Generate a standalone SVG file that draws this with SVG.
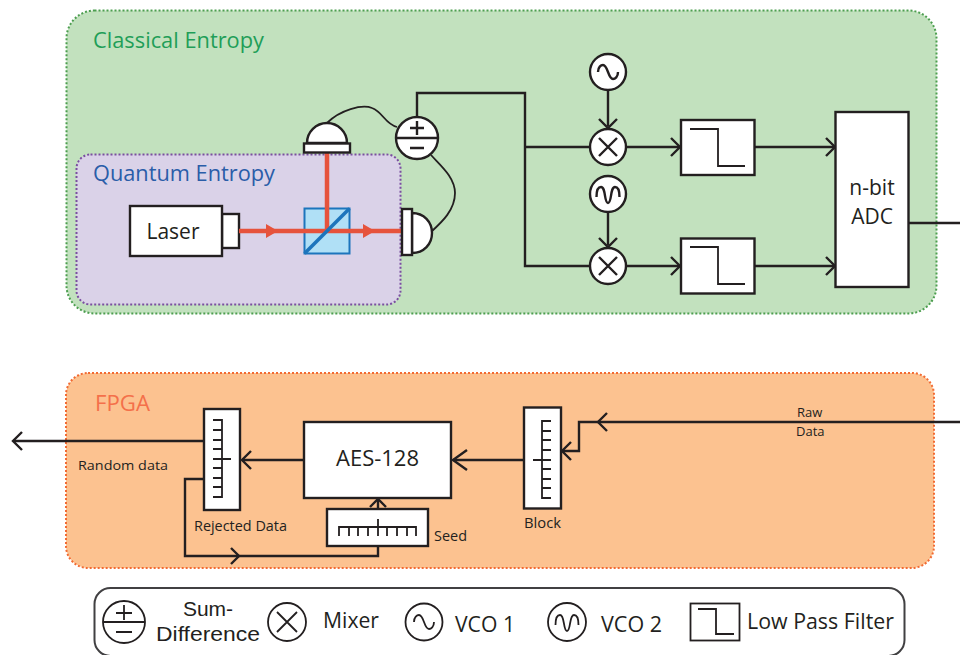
<svg xmlns="http://www.w3.org/2000/svg" width="960" height="655" viewBox="0 0 960 655">
<defs>
<style>
text{font-family:"Open Sans","Noto Sans","Liberation Sans",sans-serif;fill:#231f20}
.tight{font-family:"Liberation Sans",Arial,sans-serif}
.ln{fill:none;stroke:#231f20;stroke-width:2.4}
.th{fill:none;stroke:#231f20;stroke-width:1.8}
.box{fill:#fff;stroke:#231f20;stroke-width:2.4}
.ah{fill:none;stroke:#231f20;stroke-width:2.4}
.beam{fill:none;stroke:#e6533c;stroke-width:4.5}
</style>
</defs>
<rect x="0" y="0" width="960" height="655" fill="#fff"/>
<g id="classical-panel"><rect x="66.500" y="10.500" width="870" height="303" rx="28" fill="#c2e1be" stroke="#4c9e4f" stroke-width="2" stroke-dasharray="2 2"/><text x="93" y="48" font-size="22" style="fill:#1f9e58" textLength="171" lengthAdjust="spacingAndGlyphs">Classical Entropy</text></g>
<g id="quantum-panel"><rect x="76.500" y="154.500" width="324" height="150" rx="14" fill="#dad2e8" stroke="#7a4fa0" stroke-width="2" stroke-dasharray="2 2"/><text x="93" y="181" font-size="22" style="fill:#2a5da8" textLength="182" lengthAdjust="spacingAndGlyphs">Quantum Entropy</text></g>
<g id="fpga-panel"><rect x="66" y="373" width="868" height="195" rx="22" fill="#fcc290" stroke="#f26b33" stroke-width="2" stroke-dasharray="2 2"/><text x="95" y="411" font-size="21" style="fill:#f4704a" textLength="55" lengthAdjust="spacingAndGlyphs">FPGA</text></g>

<g id="connectors">
<path class="ln" d="M417 117V93H525V266H590M525 147H590"/>
<path class="th" d="M327 123C340 110 362 104 372 108C383 112 385 124 397 127"/>
<path class="th" d="M431 232C442 222 455 210 455 193C455 177 440 165 431 155"/>
<path class="ln" d="M608 90V126M608 212V245M626 147H680M626 266H680M755 147H834M755 266H834M909 223H960"/>
<path class="ah" d="M599 119L608 128L617 119M599 238L608 247L617 238M671 138L680 147L671 156M671 257L680 266L671 275M826 138L835 147L826 156M826 257L835 266L826 275"/>
<path class="ln" d="M204 441H13"/><path class="ah" d="M22 432L13 441L22 450"/>
<path class="ln" d="M304 460H242"/><path class="ah" d="M251 451L242 460L251 469"/>
<path class="ln" d="M524 460H453"/><path class="ah" d="M467 450L453 460L467 470"/>
<path class="ln" d="M960 422H579V451H563"/><path class="ah" d="M607 413L598 422L607 431M571 442L562 451L571 460"/>
<path class="ln" d="M204 479H185V556H378V546M378 509V499"/>
<path class="ah" d="M370 507L378 499L386 507M231 548L239 556L231 564"/>
</g>

<g id="laser"><rect class="box" x="222" y="214" width="17" height="34"/><rect class="box" x="130" y="206" width="92" height="50"/><text x="173" y="239" font-size="21" text-anchor="middle">Laser</text></g>
<g id="beamsplitter"><rect x="304.500" y="208.500" width="45" height="45" fill="#b0e0f6" stroke="#1c75bc" stroke-width="2"/></g>
<g id="beams"><path class="beam" d="M239 231H403M327 231V153"/><path d="M266 224L278 231L266 238Z M363 224L375 231L363 238Z" fill="#e6533c"/></g>
<path d="M304.500 253.500L349.500 208.500" stroke="#1c75bc" stroke-width="3.500" fill="none"/>
<g id="detector-top"><path class="box" stroke-width="1.800" d="M307 143C307 132 316 123 327 123C338 123 347 132 347 143Z"/><rect class="box" x="304" y="143.500" width="46" height="9"/></g>
<g id="detector-right"><path class="box" d="M412 213C424 213 432 222 432 233C432 244 424 253 412 253Z"/><rect class="box" x="402" y="209" width="10" height="46"/></g>
<g id="sum"><circle class="box" cx="417" cy="138" r="21"/><path class="ln" d="M396 138H438M410 128H424M417 121V135M410 148H424"/></g>

<g id="vco1"><circle class="box" cx="608" cy="72" r="18"/><path class="ln" d="M598 72C598 67 601 65 603 65C608 65 608 79 613 79C615 79 618 77 618 72"/></g>
<g id="vco2"><circle class="box" cx="608" cy="194" r="18"/><path class="ln" d="M596.500 197C596.500 190 598 187 601 187C606 187 604 203 608 203C612 203 610 187 615 187C618 187 619.500 190 619.500 197"/></g>
<g id="mixer1"><circle class="box" cx="608" cy="147" r="18"/><path class="ln" d="M599 138L617 156M617 138L599 156"/></g>
<g id="mixer2"><circle class="box" cx="608" cy="266" r="18"/><path class="ln" d="M599 257L617 275M617 257L599 275"/></g>
<g id="filter1"><rect class="box" x="681" y="120" width="73.500" height="55"/><path class="th" d="M690 129H718V166H745"/></g>
<g id="filter2"><rect class="box" x="681" y="238.500" width="73.500" height="55"/><path class="th" d="M690 247H718V284H745"/></g>
<g id="adc"><rect class="box" x="835.500" y="112" width="73" height="175"/><text x="872" y="195" font-size="21" text-anchor="middle">n-bit</text><text x="872" y="224" font-size="21" text-anchor="middle">ADC</text></g>

<g id="output-block"><rect class="box" x="204" y="409" width="36" height="101"/><path class="th" d="M213 420H222V497H213M213 430H222M213 440H222M213 449H222M213 459H231M213 468H222M213 478H222M213 487H222"/></g>
<g id="aes"><rect class="box" x="304" y="422" width="147" height="76"/><text x="377.500" y="466" font-size="21" text-anchor="middle" textLength="83" lengthAdjust="spacingAndGlyphs">AES-128</text></g>
<g id="block"><rect class="box" x="524" y="407.500" width="37" height="101"/><path class="th" d="M551 421H542V498H551M551 431H542M551 440H542M551 450H542M533 460H551M551 469H542M551 479H542M551 488H542"/></g>
<g id="seed"><rect class="box" x="327" y="509" width="101" height="37"/><path class="th" d="M339 529V527H416V536M339 527V536M349 527V536M358 527V536M368 527V536M378 519V536M387 527V536M397 527V536M407 527V536"/></g>
<g id="fpga-labels">
<text x="797" y="417" font-size="13">Raw</text><text x="796" y="436" font-size="13">Data</text>
<text x="78" y="470" font-size="13" textLength="90" lengthAdjust="spacingAndGlyphs">Random data</text>
<text x="194" y="531" font-size="14" textLength="93" lengthAdjust="spacingAndGlyphs">Rejected Data</text>
<text x="524" y="528" font-size="14" textLength="37" lengthAdjust="spacingAndGlyphs">Block</text>
<text x="434" y="541" font-size="14" textLength="33" lengthAdjust="spacingAndGlyphs">Seed</text>
</g>

<g id="legend"><rect x="94.500" y="588" width="810" height="68" rx="16" fill="#fff" stroke="#414042" stroke-width="2"/>
<g id="legend-sum"><circle class="th" cx="124" cy="622" r="21"/><path class="th" d="M103 622H145M116 613H132M124 605V620M116 632H132"/><text class="tight" x="208" y="616" font-size="21" text-anchor="middle">Sum-</text><text class="tight" x="208" y="641" font-size="21" text-anchor="middle" textLength="104" lengthAdjust="spacingAndGlyphs">Difference</text></g>
<g id="legend-mixer"><circle class="th" cx="287" cy="622" r="19"/><path class="th" d="M277 612L297 632M297 612L277 632"/><text x="323" y="628" font-size="21" textLength="56" lengthAdjust="spacingAndGlyphs">Mixer</text></g>
<g id="legend-vco1"><circle class="th" cx="424" cy="622" r="18.500"/><path class="th" d="M414 622C414 617 417 615 419 615C424 615 424 629 429 629C431 629 434 627 434 622"/><text x="455" y="632" font-size="21" textLength="60" lengthAdjust="spacingAndGlyphs">VCO 1</text></g>
<g id="legend-vco2"><circle class="th" cx="567" cy="622" r="19"/><path class="th" d="M555.500 625C555.500 618 557 615 560 615C565 615 563 631 567 631C571 631 569 615 574 615C577 615 578.500 618 578.500 625"/><text x="601" y="632" font-size="21" textLength="61" lengthAdjust="spacingAndGlyphs">VCO 2</text></g>
<g id="legend-filter"><rect class="th" x="690.500" y="603.500" width="49" height="37"/><path class="th" d="M698 609H716V634H734"/><text x="747" y="629" font-size="21" textLength="147" lengthAdjust="spacingAndGlyphs">Low Pass Filter</text></g>
</g>
</svg>
